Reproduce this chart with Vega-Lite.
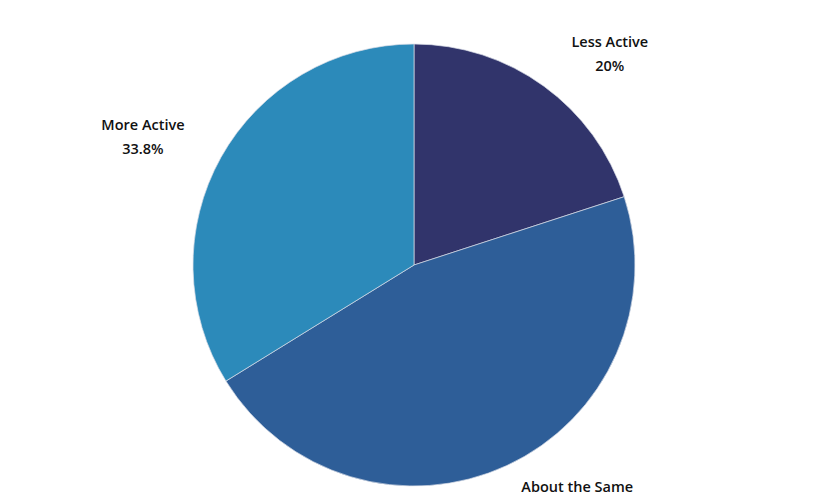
{
  "$schema": "https://vega.github.io/schema/vega-lite/v6.json",
  "width": 802,
  "height": 462,
  "padding": {"left": 13, "top": 34, "right": 0, "bottom": 0},
  "autosize": {"type": "none"},
  "background": "white",
  "config": {"view": {"stroke": null}},
  "data": {
    "values": [
      {"category": "Less Active", "value": 20, "rank": 1, "label": "Less Active\n20%"},
      {"category": "About the Same", "value": 46.2, "rank": 2, "label": "About the Same\n46.2%"},
      {"category": "More Active", "value": 33.8, "rank": 3, "label": "More Active\n33.8%"}
    ]
  },
  "encoding": {
    "theta": {"field": "value", "type": "quantitative", "stack": true},
    "order": {"field": "rank", "type": "quantitative"}
  },
  "layer": [
    {
      "mark": {"type": "arc", "outerRadius": 221, "stroke": "#d9dde6", "strokeWidth": 0.7},
      "encoding": {
        "color": {
          "field": "category",
          "type": "nominal",
          "scale": {"domain": ["Less Active", "About the Same", "More Active"], "range": ["#31346b", "#2e5e98", "#2c8aba"]},
          "legend": null
        }
      }
    },
    {
      "mark": {"type": "text", "radius": 260, "dx": 43, "dy": -12, "font": "Open Sans", "fontSize": 14.5, "fontWeight": 600, "color": "#111111", "lineBreak": "\n", "lineHeight": 24, "align": "center", "baseline": "middle"},
      "encoding": {"text": {"condition": {"test": "datum.category === 'Less Active'", "field": "label"}, "value": ""}}
    },
    {
      "mark": {"type": "text", "radius": 260, "dx": 54, "dy": -13, "font": "Open Sans", "fontSize": 14.5, "fontWeight": 600, "color": "#111111", "lineBreak": "\n", "lineHeight": 24, "align": "center", "baseline": "middle"},
      "encoding": {"text": {"condition": {"test": "datum.category === 'About the Same'", "field": "label"}, "value": ""}}
    },
    {
      "mark": {"type": "text", "radius": 260, "dx": -44, "dy": -12, "font": "Open Sans", "fontSize": 14.5, "fontWeight": 600, "color": "#111111", "lineBreak": "\n", "lineHeight": 24, "align": "center", "baseline": "middle"},
      "encoding": {"text": {"condition": {"test": "datum.category === 'More Active'", "field": "label"}, "value": ""}}
    }
  ]
}
